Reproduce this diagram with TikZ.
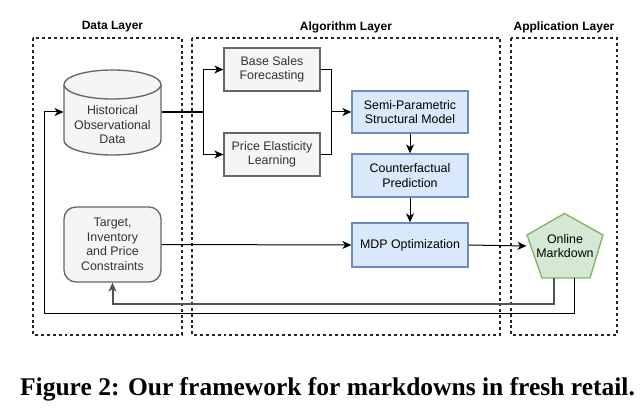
\documentclass[tikz,border=0pt]{standalone}
\usepackage{fontspec}
\setmainfont{Liberation Sans}
\newfontfamily\capfont{Liberation Serif}
\usetikzlibrary{arrows.meta}

\definecolor{greyfill}{RGB}{245,245,245}
\definecolor{greyline}{RGB}{102,102,102}
\definecolor{bluefill}{RGB}{218,232,252}
\definecolor{blueline}{RGB}{108,142,191}
\definecolor{greenfill}{RGB}{213,232,212}
\definecolor{greenline}{RGB}{130,179,102}
\definecolor{textgrey}{RGB}{51,51,51}

\tikzset{every picture/.style={line width=0.75pt}}
\tikzset{
  diag/.style={font=\fontsize{9.3}{10.9}\selectfont, align=center, inner sep=0.75pt},
  layerbox/.style={draw=black!85, line width=1.1pt, dash pattern={on 2.2pt off 2.2pt}},
  layertitle/.style={font=\fontsize{9}{10.9}\selectfont\bfseries, inner sep=0.75pt},
  greybox/.style={diag, draw=greyline, fill=greyfill, text=textgrey, line width=1pt},
  bluebox/.style={diag, draw=blueline, fill=bluefill, line width=1pt, minimum width=87pt},
  arr/.style={-{Stealth[length=6.75pt,width=6pt,inset=2pt]}},
  fbgrey/.style={arr, draw=greyline!80!black, line width=1.5pt}
}

\begin{document}
\begin{tikzpicture}[x=0.75pt,y=0.75pt,yscale=-1,xscale=1]
\useasboundingbox (0,0) rectangle (642,416);

% Layers
\draw [layerbox] (33,38) rectangle (182,335);
\draw [layerbox] (192,38) rectangle (500,335);
\draw [layerbox] (511,38) rectangle (617,335);
\node [layertitle] (datatitle) at (112.5,27) {Data Layer};
\node [layertitle] (algotitle) at (346,27) {Algorithm Layer};
\node [layertitle] (apptitle) at (564,27) {Application Layer};

% Shape: Cylinder
\draw [draw=greyline, fill=greyfill, line width=1pt] (64,84.5) -- (64,140.5) .. controls (64,148.51) and (85.71,155) .. (112.5,155) .. controls (139.29,155) and (161,148.51) .. (161,140.5) -- (161,84.5) .. controls (161,76.49) and (139.29,70) .. (112.5,70) .. controls (85.71,70) and (64,76.49) .. (64,84.5) -- cycle ;
\draw [draw=greyline, line width=1pt] (64,84.5) .. controls (64,92.51) and (85.71,99) .. (112.5,99) .. controls (139.29,99) and (161,92.51) .. (161,84.5) ;
\node [diag, text=textgrey, minimum width=72.75pt, minimum height=42pt] (hist) at (112.5,125) {Historical\\Observational\\Data};

% Boxes
\node [greybox, minimum width=72pt, minimum height=32.25pt] (base) at (272,69.5) {Base Sales\\Forecasting};
\node [greybox, minimum width=72pt, minimum height=32.25pt] (elast) at (272,154.5) {Price Elasticity\\Learning};
\node [bluebox, minimum height=31.5pt] (semi) at (410,112) {Semi-Parametric\\Structural Model};
\node [bluebox, minimum height=32.25pt] (counter) at (410,175.5) {Counterfactual\\Prediction};
\node [bluebox, minimum height=33pt] (mdp) at (410,245) {MDP Optimization};
\node [greybox, rounded corners=9pt, minimum width=72.75pt, minimum height=56.25pt] (target) at (112.5,244.5) {Target,\\Inventory\\and Price\\Constraints};

% Shape: Pentagon
\draw [draw=greenline, fill=greenfill, line width=1pt] (564.5,213.5) -- (603,235) -- (590,278) -- (542,278) -- (527,235) -- cycle ;
\node [diag, minimum width=57pt, minimum height=48.75pt] (online) at (565,246) {Online\\Markdown};

% Connectors
\coordinate (split) at (203,112);
\coordinate (merge) at (331,112);
\coordinate (out1) at (554,278);
\coordinate (out2) at (574,278);
\coordinate (lowA) at (112.5,304);
\coordinate (lowB) at (44,314);
\draw [line width=1.1pt] (hist.east |- split) -- (split);
\draw [arr] (split) |- (base.west);
\draw [arr] (split) |- (elast.west);
\draw (base.east) -| (merge);
\draw (elast.east) -| (merge);
\draw [arr] (merge) -- (semi.west);
\draw [arr] (semi.south) -- (counter.north);
\draw [arr] (counter.south) -- (mdp.north);
\draw [arr] (target.east) -- (mdp.west);
\draw [arr] (mdp.east) -- (online.west);
\draw [fbgrey] (out1) |- (lowA) -- (target.south);
\draw [arr] (out2) |- (lowB) |- (hist.west |- split);

% Text Node
\node [inner sep=0pt] (caption) at (327.5,389) {\resizebox{461pt}{!}{\capfont\bfseries Figure 2: Our framework for markdowns in fresh retail.}};
\end{tikzpicture}
\end{document}
